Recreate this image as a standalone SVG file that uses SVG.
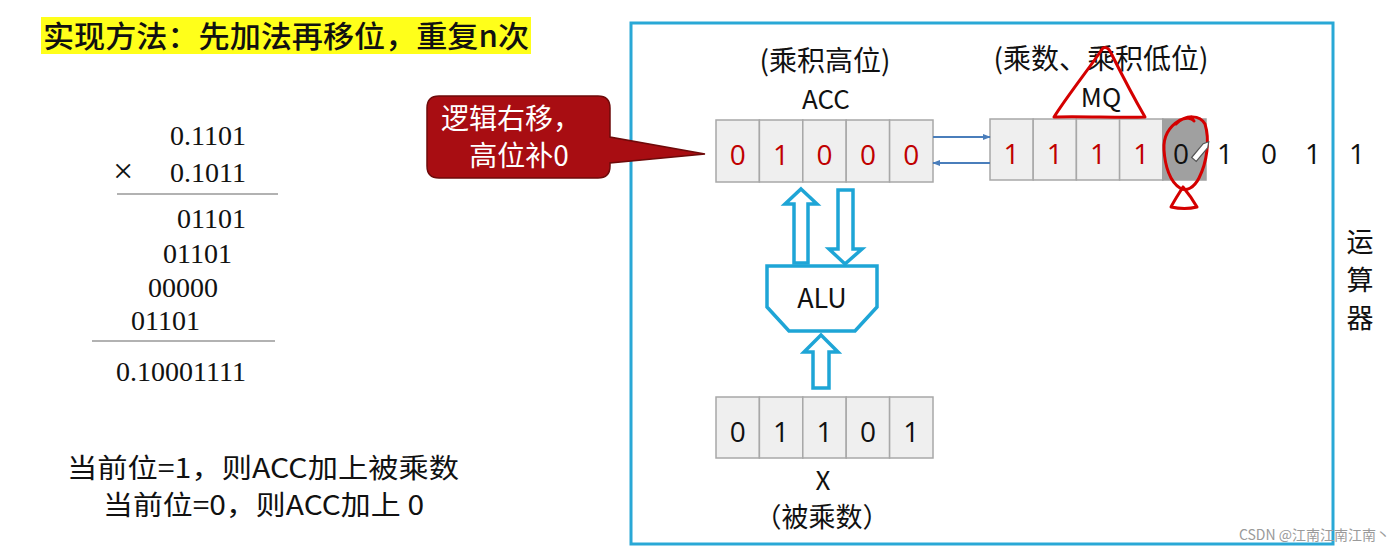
<svg xmlns="http://www.w3.org/2000/svg" width="1400" height="549" viewBox="0 0 1400 549">
<style>
.cjk{font-family:"Noto Sans CJK SC","Noto Sans",sans-serif;fill:#111}
.ser{font-family:"Liberation Serif",serif;font-size:28px;fill:#111}
.dig{font-family:"Open Sans","Noto Sans",sans-serif;font-size:28px;text-anchor:middle}
.red{fill:#c00000}
.blk{fill:#111}
.cell{fill:#efefef;stroke:#a8a8a8;stroke-width:1.5}
.blue{fill:#fff;stroke:#1ea5d6;stroke-width:3.5;stroke-linejoin:miter}
.ink{fill:none;stroke:#d40000;stroke-width:3;stroke-linecap:round;stroke-linejoin:round}
.con{stroke:#4a7ebb;stroke-width:2;fill:none}
</style>
<defs>
<marker id="ah" viewBox="0 0 10 10" refX="9" refY="5" markerWidth="8" markerHeight="8" orient="auto" markerUnits="userSpaceOnUse">
<path d="M0,1 L10,5 L0,9 z" fill="#4a7ebb"/>
</marker>
</defs>
<rect width="1400" height="549" fill="#fff"/>

<g id="title">
<rect x="41" y="17" width="490" height="37" fill="#ffff1a"/>
<text class="cjk" x="43" y="47" font-size="30" font-weight="500" textLength="486" lengthAdjust="spacingAndGlyphs">实现方法：先加法再移位，重复n次</text>
</g>

<g id="calc">
<text class="ser" x="246" y="145" text-anchor="end">0.1101</text>
<text class="ser" x="113" y="183" style="font-size:36px">×</text>
<text class="ser" x="246" y="182" text-anchor="end">0.1011</text>
<line x1="117" y1="194" x2="278" y2="194" stroke="#999" stroke-width="1.5"/>
<text class="ser" x="246" y="228" text-anchor="end">01101</text>
<text class="ser" x="232" y="263" text-anchor="end">01101</text>
<text class="ser" x="218" y="297" text-anchor="end">00000</text>
<text class="ser" x="200" y="330" text-anchor="end">01101</text>
<line x1="92" y1="341" x2="275" y2="341" stroke="#999" stroke-width="1.5"/>
<text class="ser" x="246" y="381" text-anchor="end">0.10001111</text>
</g>

<g id="rules">
<text class="cjk" x="67" y="478" font-size="27" textLength="392" lengthAdjust="spacingAndGlyphs">当前位=1，则ACC加上被乘数</text>
<text class="cjk" x="103" y="515" font-size="27" textLength="321" lengthAdjust="spacingAndGlyphs">当前位=0，则ACC加上 0</text>
</g>

<g id="frame">
<rect x="631" y="23" width="702" height="521" fill="none" stroke="#29a8d6" stroke-width="3"/>
<text class="cjk" x="1360" y="252" font-size="27" text-anchor="middle">运</text>
<text class="cjk" x="1360" y="290" font-size="27" text-anchor="middle">算</text>
<text class="cjk" x="1360" y="328" font-size="27" text-anchor="middle">器</text>
</g>

<g id="callout">
<path d="M439,96 H598 Q610,96 610,108 V137 L705,154 L610,163 V166 Q610,178 598,178 H439 Q427,178 427,166 V108 Q427,96 439,96 Z" fill="#a80d12" stroke="#6e0a0a" stroke-width="1.5"/>
<text class="cjk" x="511" y="129" font-size="28" text-anchor="middle" style="fill:#fff">逻辑右移，</text>
<text class="cjk" x="519" y="166" font-size="28" text-anchor="middle" style="fill:#fff">高位补0</text>
</g>

<g id="acc">
<text class="cjk" x="825" y="71" font-size="28" text-anchor="middle">(乘积高位)</text>
<text class="cjk" x="826" y="109" font-size="26" text-anchor="middle">ACC</text>
<rect class="cell" x="716" y="120" width="43.4" height="62"/>
<rect class="cell" x="759.4" y="120" width="43.4" height="62"/>
<rect class="cell" x="802.8" y="120" width="43.4" height="62"/>
<rect class="cell" x="846.2" y="120" width="43.4" height="62"/>
<rect class="cell" x="889.6" y="120" width="43.4" height="62"/>
<text class="dig red" x="737.7" y="165">0</text>
<text class="dig red" x="781.1" y="165">1</text>
<text class="dig red" x="824.5" y="165">0</text>
<text class="dig red" x="867.9" y="165">0</text>
<text class="dig red" x="911.3" y="165">0</text>
</g>

<g id="mq">
<text class="cjk" x="1101" y="69" font-size="28" text-anchor="middle">(乘数、乘积低位)</text>
<text class="cjk" x="1101" y="107" font-size="26" text-anchor="middle">MQ</text>
<rect class="cell" x="990" y="119" width="43.2" height="61"/>
<rect class="cell" x="1033.2" y="119" width="43.2" height="61"/>
<rect class="cell" x="1076.4" y="119" width="43.2" height="61"/>
<rect class="cell" x="1119.6" y="119" width="43.2" height="61"/>
<rect x="1162.8" y="119" width="43.2" height="61" fill="#a0a0a0" stroke="#a0a0a0" stroke-width="1.5"/>
<text class="dig red" x="1011.6" y="164">1</text>
<text class="dig red" x="1054.8" y="164">1</text>
<text class="dig red" x="1098" y="164">1</text>
<text class="dig red" x="1141.2" y="164">1</text>
<text class="dig blk" x="1181" y="164">0</text>
<text class="dig blk" x="1225" y="164">1</text>
<text class="dig blk" x="1269" y="164">0</text>
<text class="dig blk" x="1313" y="164">1</text>
<text class="dig blk" x="1357" y="164">1</text>
</g>

<g id="annotations">
<path class="ink" d="M1054,117 C1068,95 1088,70 1103,48 C1107,46 1110,50 1112,55 C1122,75 1134,98 1145,117 C1120,118 1080,116 1054,117"/>
<path class="ink" d="M1176,124 C1186,114 1200,115 1205,124 C1210,140 1207,162 1199,178 C1194,188 1186,192 1180,188 C1170,182 1165,166 1164,150 C1163,136 1170,126 1180,120 C1186,117 1192,118 1194,121"/>
<path class="ink" d="M1183,187 C1178,195 1174,201 1171,207 C1180,209 1189,209 1197,207 C1193,200 1188,193 1183,187"/>
<g transform="translate(1201,151) rotate(-50)">
<path d="M-11,-3 H7 L12,0 L7,3 H-11 Z" fill="#fff" stroke="#555" stroke-width="1.2"/>
</g>
</g>

<g id="alu">
<path class="blue" d="M767,266 H877 V307 L855,331 H789 L767,307 Z"/>
<text class="cjk" x="822" y="308" font-size="27" text-anchor="middle">ALU</text>
</g>

<g id="x">
<rect class="cell" x="716" y="397" width="43.4" height="61"/>
<rect class="cell" x="759.4" y="397" width="43.4" height="61"/>
<rect class="cell" x="802.8" y="397" width="43.4" height="61"/>
<rect class="cell" x="846.2" y="397" width="43.4" height="61"/>
<rect class="cell" x="889.6" y="397" width="43.4" height="61"/>
<text class="dig blk" x="737.7" y="442">0</text>
<text class="dig blk" x="781.1" y="442">1</text>
<text class="dig blk" x="824.5" y="442">1</text>
<text class="dig blk" x="867.9" y="442">0</text>
<text class="dig blk" x="911.3" y="442">1</text>
<text class="cjk" x="823" y="490" font-size="26" text-anchor="middle">X</text>
<text class="cjk" x="822" y="527" font-size="27" text-anchor="middle">（被乘数）</text>
</g>

<g id="connectors">
<line class="con" x1="933" y1="137" x2="990" y2="137" marker-end="url(#ah)"/>
<line class="con" x1="990" y1="163" x2="933" y2="163" marker-end="url(#ah)"/>
<path class="blue" d="M801,189 L817,204 H808 V263 H794 V204 H785 Z" stroke-width="3"/>
<path class="blue" d="M845,264 L862,249 H853 V190 H838 V249 H829 Z" stroke-width="3"/>
<path class="blue" d="M821,335 L838,352 H829 V388 H813 V352 H804 Z" stroke-width="3"/>
</g>

<text x="1390" y="540" font-family="'Noto Sans CJK SC','Noto Sans',sans-serif" font-size="14" fill="#9a9a9a" text-anchor="end">CSDN @江南江南江南丶</text>
</svg>
